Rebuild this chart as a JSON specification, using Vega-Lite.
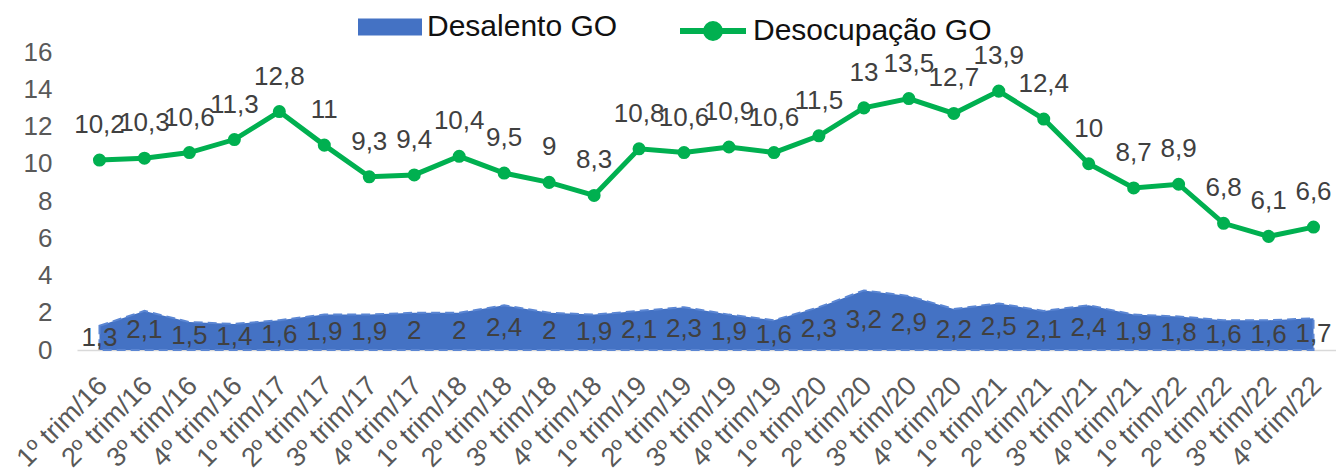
{
  "$schema": "https://vega.github.io/schema/vega-lite/v6.json",
  "autosize": {"type": "none"},
  "width": 1259,
  "height": 298,
  "padding": {"left": 77, "top": 52, "right": 0, "bottom": 122},
  "background": "white",
  "config": {
    "locale": {"number": {"decimal": ",", "thousands": ".", "grouping": [3], "currency": ["R$", ""]}},
    "font": "Liberation Sans",
    "view": {"stroke": null},
    "axisY": {
      "labelFontSize": 26,
      "labelColor": "#595959",
      "labelPadding": 25,
      "labelOverlap": false,
      "ticks": false,
      "domain": false,
      "grid": false,
      "title": null
    },
    "axisX": {
      "labelAngle": -45,
      "labelFontSize": 27,
      "labelColor": "#595959",
      "labelPadding": 22,
      "labelOffset": -6,
      "labelOverlap": false,
      "ticks": false,
      "domainColor": "#D9D9D9",
      "domainWidth": 1.5,
      "grid": false,
      "title": null
    }
  },
  "data": {
    "values": [
      {"trimestre": "1º trim/16", "desalento": 1.3, "desocupacao": 10.2},
      {"trimestre": "2º trim/16", "desalento": 2.1, "desocupacao": 10.3},
      {"trimestre": "3º trim/16", "desalento": 1.5, "desocupacao": 10.6},
      {"trimestre": "4º trim/16", "desalento": 1.4, "desocupacao": 11.3},
      {"trimestre": "1º trim/17", "desalento": 1.6, "desocupacao": 12.8},
      {"trimestre": "2º trim/17", "desalento": 1.9, "desocupacao": 11},
      {"trimestre": "3º trim/17", "desalento": 1.9, "desocupacao": 9.3},
      {"trimestre": "4º trim/17", "desalento": 2, "desocupacao": 9.4},
      {"trimestre": "1º trim/18", "desalento": 2, "desocupacao": 10.4},
      {"trimestre": "2º trim/18", "desalento": 2.4, "desocupacao": 9.5},
      {"trimestre": "3º trim/18", "desalento": 2, "desocupacao": 9},
      {"trimestre": "4º trim/18", "desalento": 1.9, "desocupacao": 8.3},
      {"trimestre": "1º trim/19", "desalento": 2.1, "desocupacao": 10.8},
      {"trimestre": "2º trim/19", "desalento": 2.3, "desocupacao": 10.6},
      {"trimestre": "3º trim/19", "desalento": 1.9, "desocupacao": 10.9},
      {"trimestre": "4º trim/19", "desalento": 1.6, "desocupacao": 10.6},
      {"trimestre": "1º trim/20", "desalento": 2.3, "desocupacao": 11.5},
      {"trimestre": "2º trim/20", "desalento": 3.2, "desocupacao": 13},
      {"trimestre": "3º trim/20", "desalento": 2.9, "desocupacao": 13.5},
      {"trimestre": "4º trim/20", "desalento": 2.2, "desocupacao": 12.7},
      {"trimestre": "1º trim/21", "desalento": 2.5, "desocupacao": 13.9},
      {"trimestre": "2º trim/21", "desalento": 2.1, "desocupacao": 12.4},
      {"trimestre": "3º trim/21", "desalento": 2.4, "desocupacao": 10},
      {"trimestre": "4º trim/21", "desalento": 1.9, "desocupacao": 8.7},
      {"trimestre": "1º trim/22", "desalento": 1.8, "desocupacao": 8.9},
      {"trimestre": "2º trim/22", "desalento": 1.6, "desocupacao": 6.8},
      {"trimestre": "3º trim/22", "desalento": 1.6, "desocupacao": 6.1},
      {"trimestre": "4º trim/22", "desalento": 1.7, "desocupacao": 6.6}
    ]
  },
  "layer": [
    {
      "encoding": {
        "x": {
          "field": "trimestre",
          "type": "ordinal",
          "sort": null,
          "scale": {"type": "point", "padding": 0.5}
        }
      },
      "layer": [
        {
          "mark": {"type": "area", "color": "#4472C4", "opacity": 1, "stroke": "#5B86D3", "strokeWidth": 2, "strokeDash": [9, 5]},
          "encoding": {
            "y": {
              "field": "desalento",
              "type": "quantitative",
              "scale": {"domain": [0, 16]},
              "axis": {"values": [0, 2, 4, 6, 8, 10, 12, 14, 16]}
            },
            "fill": {
              "field": "serie_a",
              "type": "nominal",
              "scale": {"domain": ["Desalento GO"], "range": ["#4472C4"]},
              "legend": {
                "title": null,
                "orient": "none",
                "legendX": 281,
                "legendY": -57,
                "symbolType": "M-1,-0.266H1V0.266H-1Z",
                "symbolSize": 4096,
                "symbolStrokeWidth": 0,
                "labelFontSize": 30,
                "labelColor": "#111111",
                "labelOffset": 5,
                "labelLimit": 500
              }
            }
          },
          "transform": [{"calculate": "'Desalento GO'", "as": "serie_a"}]
        },
        {
          "mark": {"type": "line", "color": "#00B050", "strokeWidth": 5},
          "encoding": {
            "y": {"field": "desocupacao", "type": "quantitative", "axis": {"values": [0, 2, 4, 6, 8, 10, 12, 14, 16]}},
            "stroke": {
              "field": "serie_b",
              "type": "nominal",
              "scale": {"domain": ["Desocupação GO"], "range": ["#00B050"]},
              "legend": {
                "title": null,
                "orient": "none",
                "legendX": 600,
                "legendY": -57,
                "symbolType": "M-1,0H1M0.21,0A0.21,0.21 0 1,1 -0.21,0A0.21,0.21 0 1,1 0.21,0",
                "symbolSize": 4356,
                "symbolStrokeWidth": 6,
                "symbolStrokeColor": "#00B050",
                "symbolFillColor": "#00B050",
                "labelFontSize": 30,
                "labelColor": "#111111",
                "labelOffset": 4,
                "labelLimit": 500
              }
            }
          },
          "transform": [{"calculate": "'Desocupação GO'", "as": "serie_b"}]
        },
        {
          "mark": {"type": "point", "filled": true, "color": "#00B050", "size": 170, "opacity": 1},
          "encoding": {"y": {"field": "desocupacao", "type": "quantitative", "axis": {"values": [0, 2, 4, 6, 8, 10, 12, 14, 16]}}}
        },
        {
          "mark": {"type": "text", "fontSize": 26, "color": "#404040", "baseline": "alphabetic", "dy": -27},
          "encoding": {
            "y": {"field": "desocupacao", "type": "quantitative", "axis": {"values": [0, 2, 4, 6, 8, 10, 12, 14, 16]}},
            "text": {"field": "desocupacao", "type": "quantitative", "format": "~g"}
          }
        }
      ]
    },
    {
      "mark": {"type": "text", "fontSize": 26, "color": "#404040", "baseline": "middle"},
      "encoding": {
        "x": {"field": "trimestre", "type": "ordinal", "sort": null, "scale": {"type": "point", "padding": 0.5}},
        "y": {"field": "desalento", "type": "quantitative", "scale": {"domain": [0, 32]}, "axis": null},
        "text": {"field": "desalento", "type": "quantitative", "format": "~g"}
      }
    }
  ],
  "resolve": {"scale": {"y": "independent"}}
}
